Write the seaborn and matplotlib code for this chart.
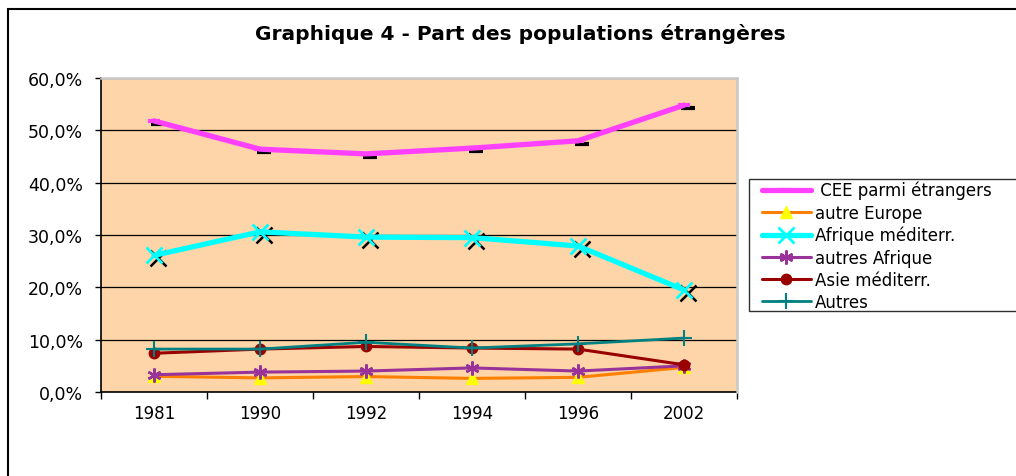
import matplotlib
matplotlib.use("Agg")
import matplotlib.pyplot as plt
import matplotlib.transforms as mtransforms
from matplotlib.patches import Rectangle
import seaborn as sns

# ---- data ----
years = ["1981", "1990", "1992", "1994", "1996", "2002"]
cee = [51.8, 46.4, 45.5, 46.6, 48.0, 54.8]
autre_europe = [3.0, 2.7, 2.95, 2.6, 2.8, 4.7]
afrique_med = [26.1, 30.6, 29.6, 29.5, 27.9, 19.5]
autres_afrique = [3.3, 3.8, 4.0, 4.6, 4.0, 5.0]
asie_med = [7.4, 8.2, 8.7, 8.4, 8.2, 5.2]
autres = [8.2, 8.2, 9.5, 8.4, 9.2, 10.3]
ytick_vals = [0, 10, 20, 30, 40, 50, 60]
ytick_labels = ["0,0%", "10,0%", "20,0%", "30,0%", "40,0%", "50,0%", "60,0%"]
title = "Graphique 4 - Part des populations étrangères"
labels = [" CEE parmi étrangers", "autre Europe", "Afrique méditerr.",
          "autres Afrique", "Asie méditerr.", "Autres"]

sns.set_theme(style="white")
plt.rcParams["font.family"] = ["DejaVu Sans"]
plt.rcParams["text.color"] = "black"

fig = plt.figure(figsize=(10.16, 4.77), dpi=100)
fig.patch.set_facecolor("white")
ax = fig.add_axes([101 / 1016, 84 / 477, 636 / 1016, 314 / 477])
ax.set_facecolor("#FDD5A8")

pos = list(range(len(years)))
shadow = ax.transData + mtransforms.ScaledTranslation(0.035, -0.03, fig.dpi_scale_trans)

# shadows (black markers)
sns.lineplot(x=pos, y=cee, ax=ax, color="black", linestyle="none", marker="_",
             markersize=10, markeredgewidth=3, markeredgecolor="black",
             transform=shadow, zorder=3)
sns.lineplot(x=pos, y=afrique_med, ax=ax, color="black", linestyle="none", marker="x",
             markersize=12, markeredgewidth=1.8, markeredgecolor="black",
             transform=shadow, zorder=3)

handles = []
def draw(vals, color, lw, marker, ms, mfc, mec, mew, label, z):
    sns.lineplot(x=pos, y=vals, ax=ax, color=color, linewidth=lw, marker=marker,
                 markersize=ms, markerfacecolor=mfc, markeredgecolor=mec,
                 markeredgewidth=mew, zorder=z)
    line = ax.lines[-1]
    line.set_label(label)
    handles.append(line)

draw(cee, "#FF40FF", 3.8, "_", 8, "#FF40FF", "#FF40FF", 3, labels[0], 5)
draw(autre_europe, "#FF8000", 2.2, "^", 8, "#FFFF00", "#FFFF00", 1, labels[1], 4)
draw(afrique_med, "#00FFFF", 3.8, "x", 12, "#00FFFF", "#00FFFF", 2, labels[2], 5)
draw(autres_afrique, "#993399", 2.2, (6, 2, 0), 10, "#993399", "#993399", 1.8, labels[3], 4)
draw(asie_med, "#990000", 2.2, "o", 7.5, "#990000", "#990000", 1, labels[4], 4)
draw(autres, "#008080", 2.0, "+", 11, "#008080", "#008080", 1.5, labels[5], 4)

# axes styling
ax.set_xlim(-0.5, len(years) - 0.5)
ax.set_ylim(0, 60)
ax.set_yticks(ytick_vals)
ax.set_yticklabels(ytick_labels)
ax.set_xticks(pos)
ax.set_xticklabels(years)
ax.set_xticks([p - 0.5 for p in pos] + [len(years) - 0.5], minor=True)
ax.tick_params(axis="x", which="major", length=0, pad=9, labelsize=12, colors="black")
ax.tick_params(axis="x", which="minor", bottom=True, length=5, width=1, color="black", direction="out")
ax.tick_params(axis="y", which="major", left=True, length=4, width=1, pad=9,
               labelsize=12.5, color="black", labelcolor="black", direction="out")
ax.set_xlabel("")
ax.set_ylabel("")
ax.grid(False)
ax.yaxis.grid(True, color="black", linewidth=0.9)
ax.set_axisbelow(True)
for s in ["left", "bottom"]:
    ax.spines[s].set_color("black")
    ax.spines[s].set_linewidth(1.2)
for s in ["top", "right"]:
    ax.spines[s].set_color("#C8C8C8")
    ax.spines[s].set_linewidth(1.8)
    ax.spines[s].set_zorder(3)

# legend (frame drawn separately so that horizontal and vertical padding differ)
fig.patches.append(Rectangle((749 / 1016, 1 - 312 / 477), 0.5, 132 / 477,
                             transform=fig.transFigure, facecolor="white",
                             edgecolor="#303030", linewidth=1.0, zorder=-1))
leg = ax.legend(handles=handles, loc="upper left",
                bbox_to_anchor=(762 / 1016, 1 - 182 / 477), bbox_transform=fig.transFigure,
                borderaxespad=0, borderpad=0, fontsize=12, frameon=False,
                handlelength=2.93, handletextpad=0.24, labelspacing=0.25,
                labelcolor="black")

fig.text(520 / 1016, 1 - 34 / 477, title, ha="center", va="center",
         fontsize=14.5, fontweight="bold", color="black")

fig.patches.append(Rectangle((8 / 1016, -0.1), 1.5, 1 - 10 / 477 + 0.1,
                             transform=fig.transFigure, fill=False,
                             edgecolor="black", linewidth=1.5, zorder=-1))

fig.savefig("out.png", dpi=100)
